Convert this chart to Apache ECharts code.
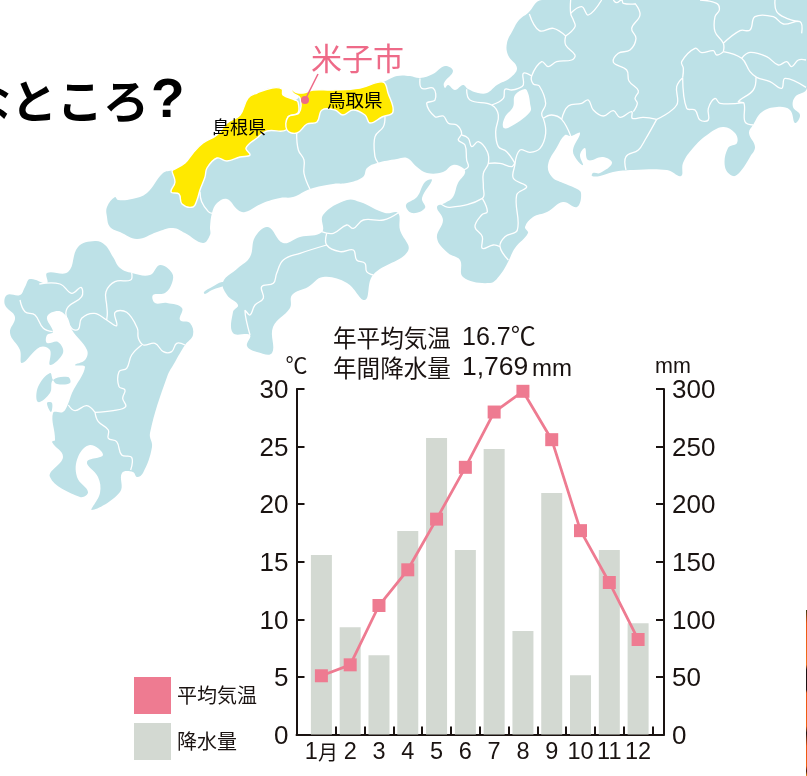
<!DOCTYPE html>
<html>
<head>
<meta charset="utf-8">
<style>
  html, body { margin: 0; padding: 0; background: #fff; }
  #chart { width: 807px; height: 776px; }
</style>
<script src="https://cdn.jsdelivr.net/npm/echarts@6/dist/echarts.min.js"></script>
</head>
<body>
<div id="chart"></div>
<script>
const months = ["1月", "2", "3", "4", "5", "6", "7", "8", "9", "10", "11", "12"];
const temperature = [5.1, 6.05, 11.2, 14.3, 18.7, 23.2, 28.0, 29.8, 25.6, 17.7, 13.2, 8.25];
const rainfall = [155.8, 93.2, 68.9, 176.6, 257.4, 160.1, 247.9, 89.8, 209.7, 51.5, 160.1, 96.7];
const tempName = "平均気温";
const rainName = "降水量";

const FONT = '"Liberation Sans", "Noto Sans CJK JP", sans-serif';
const JP = '"Noto Sans CJK JP", sans-serif';
const INK = "#1a1311";
const PINK = "#ee7b91";
const GREY = "#d3d9d2";
const LAND = "#bde1e7";
const YELLOW = "#ffe900";

// map outlines, page pixels
const honshu = [[107,207],[115,197],[118,200],[132,199],[147,193],[163,173],[173,170],[185,163],[193,153],[203,143],[217,135],[227,123],[240,115],[248,98],[257,93],[272,88],[282,89],[283,95],[295,100],[303,93],[313,90],[333,90],[360,88],[383,82],[397,76],[410,76],[420,78],[433,74],[445,66],[453,71],[444,83],[445,88],[448,85],[455,90],[463,85],[468,89],[478,93],[487,93],[497,85],[510,78],[517,68],[508,55],[507,43],[513,30],[519,20],[528,13],[542,0],[807,0],[807,88],[795,97],[793,107],[800,115],[795,123],[790,110],[777,107],[762,112],[753,125],[749,133],[755,147],[750,157],[740,172],[733,176],[725,167],[728,148],[737,143],[735,133],[723,127],[707,135],[693,148],[683,163],[681,176],[667,170],[633,170],[613,172],[600,176],[592,176],[593,173],[600,173],[612,163],[603,157],[588,160],[585,148],[580,155],[583,165],[577,160],[573,150],[580,133],[571,136],[565,135],[557,147],[548,165],[552,177],[563,183],[575,188],[581,193],[577,207],[563,202],[547,212],[533,217],[525,227],[528,233],[515,248],[508,262],[500,275],[490,283],[463,277],[460,260],[448,253],[437,238],[443,220],[437,207],[445,203],[453,197],[458,183],[465,173],[463,168],[453,165],[443,172],[427,173],[417,167],[407,158],[397,159],[377,163],[367,168],[363,177],[347,183],[333,184],[310,189],[293,197],[280,198],[263,203],[245,212],[238,210],[227,199],[217,203],[212,213],[210,227],[210,235],[203,243],[185,233],[173,228],[157,232],[137,239],[120,232],[110,227],[107,217]];
const biwa = [[525,89],[515,95],[513,107],[505,117],[503,127],[508,128],[530,112],[530,103],[528,93]];
const awaji = [[432,180],[425,182],[417,197],[406,205],[412,213],[425,208],[422,198]];
const shikoku = [[223,282],[238,268],[250,257],[255,237],[268,227],[283,243],[300,237],[322,232],[323,215],[347,200],[360,202],[385,213],[398,213],[400,230],[408,251],[373,275],[365,300],[347,283],[323,277],[308,287],[292,295],[290,308],[273,327],[272,353],[257,352],[247,346],[250,335],[233,333],[233,312],[238,305],[227,295]];
const sadamisaki = [[204,292],[212,287],[222,282],[225,285],[212,290],[205,294]];
const kyushu = [[95,241],[78,247],[68,272],[47,273],[47,283],[30,279],[25,287],[20,295],[7,295],[5,305],[15,317],[10,333],[20,350],[22,363],[40,347],[50,350],[50,365],[63,353],[58,342],[47,343],[47,335],[53,332],[47,317],[58,311],[67,317],[72,330],[87,350],[85,360],[75,365],[85,367],[72,393],[68,404],[63,412],[53,413],[55,440],[52,442],[63,457],[50,477],[80,497],[88,492],[77,477],[78,457],[90,445],[103,455],[87,462],[98,477],[100,493],[92,510],[120,492],[122,473],[133,472],[137,477],[143,473],[152,447],[150,433],[167,377],[175,362],[185,345],[193,335],[190,323],[180,320],[182,308],[167,303],[155,303],[153,295],[165,293],[172,283],[172,273],[160,265],[150,275],[132,273],[120,268],[113,257],[105,245]];
const amakusa = [[50,373],[38,387],[38,402],[50,393],[53,380],[68,377],[70,383],[57,384],[53,380]];
const koshiki = [[47,403],[52,403],[51,412]];
const shimane = [[173,170],[185,163],[193,153],[203,143],[217,135],[227,123],[240,115],[248,98],[257,93],[272,88],[282,89],[283,95],[295,100],[298,102],[298,113],[288,117],[286,130],[267,131],[257,138],[246,148],[250,155],[240,157],[227,161],[217,158],[207,168],[205,177],[200,190],[197,200],[193,207],[182,204],[179,194],[171,192],[175,182],[172,171]];
const tottori = [[290,86],[295,92],[303,93],[313,90],[333,90],[360,88],[383,82],[388,93],[393,112],[382,117],[370,123],[365,115],[353,110],[343,115],[335,110],[322,110],[317,122],[307,124],[297,133],[287,130],[288,117],[299,113],[300,98],[293,93]];

// prefecture borders, page pixels (x, y pairs taken off 3x crops)
function crop(ox, oy, flat) {
  const pts = [];
  for (let i = 0; i < flat.length; i += 2) pts.push([ox + flat[i] / 3, oy + flat[i + 1] / 3]);
  return pts;
}
const borders = [
  // kyushu
  [0,180,[60,360,75,395,105,405,130,445,158,455]],
  [0,180,[118,312,180,312,215,340,243,322,245,350,205,380,198,405,215,445,235,448,245,415,283,400,320,420,350,437,345,397,380,397,412,445,415,475,430,495,465,490,490,515,515,515,530,490,555,495]],
  [0,180,[395,278,392,300,345,305,318,335,320,375,322,400,320,420]],
  [0,180,[425,495,395,525,380,565,357,575,357,620,375,630,368,655,377,680,340,692,285,697]],
  [0,180,[205,675,225,692,260,677,285,697]],
  [0,180,[285,697,295,725,325,750,325,775,350,785,365,825,395,832,392,870]],
  // shikoku
  [0,180,[965,155,1000,160,1040,135,1060,145,1090,120,1150,120,1195,98]],
  [0,180,[980,160,980,195,1020,215,1060,210,1070,240,1095,250,1100,275,1120,285]],
  [0,180,[980,195,900,220,850,240,830,280,820,310,785,320,790,355,765,375,750,405,735,392,750,465]],
  // chugoku
  [0,0,[600,575,605,605,625,635,637,640]],
  [0,0,[890,400,895,450,912,480,912,520,930,568]],
  [0,0,[1155,350,1150,380,1125,410,1125,470,1135,490]],
  // kinki and chubu
  [400,0,[60,235,65,265,100,265,105,300,80,310,105,350,130,348,145,370,170,375,185,400,175,420,195,435,200,480,205,500,190,510]],
  [400,0,[185,405,205,415,215,440,235,425,262,455,265,490,250,520,250,560,247,595,150,622,120,610]],
  [400,0,[200,268,210,300,275,315,295,345,287,395,295,440,320,455,345,490]],
  [400,0,[275,315,310,295,315,268,335,270,355,265,370,255,370,220,395,228]],
  [400,0,[388,42,418,92,460,85,497,108]],
  [400,0,[497,108,497,135,525,165,515,180,470,185,445,200,425,185,395,228,400,252,418,258,437,310,425,340,430,355]],
  [400,0,[430,355,437,400,420,445,390,457,360,450,345,490]],
  [400,0,[265,490,300,490,335,500,345,490,340,535,380,560,350,585,352,690,315,710,300,740,325,780]],
  [400,0,[247,595,262,635,245,645,225,680,247,710,247,745,280,735,300,740]],
  [400,0,[430,355,455,345,485,358,512,408]],
  [400,0,[485,358,505,318,545,310,565,300,580,330,610,348,640,332,660,352,695,335,697,355,730,352,770,358]],
  [400,0,[512,0,512,40,520,60,525,80,497,108]],
  [400,0,[512,40,545,20,565,45,605,0]],
  [400,0,[640,0,650,8,665,0,670,10,705,12]],
  [400,0,[705,10,720,45,695,85,708,115,690,150,655,160,640,187,680,210,687,243,715,272,705,295,712,310,700,335]],
  [400,0,[770,358,830,315,830,260,848,233]],
  [400,0,[770,358,735,420,715,450,678,470,678,510]],
  [400,0,[848,233,860,325,885,330,900,360,925,360,925,325,945,295,960,310,1030,308]],
  [400,0,[848,233,850,205,845,185,885,145,905,158,940,152,950,165,970,155]],
  [400,0,[900,0,950,10,958,30,945,50,945,95,970,130,970,155]],
  [400,0,[970,130,1020,92,1050,90,1065,50,1120,50,1150,72,1200,65,1205,100]],
  [400,0,[1125,0,1130,35,1160,55,1195,65]],
  [400,0,[970,155,1025,175,1050,215,1070,232,1110,245,1145,265,1155,235,1218,262]],
  [400,0,[1025,175,1050,157,1100,170,1135,195,1160,185,1175,200,1195,180,1218,180]],
  [400,0,[1068,232,1060,270,1015,305,1032,310,1035,365,1060,375]]
];

function land(points, fill, stroke) {
  return {
    type: "polygon", silent: true, z: -2,
    shape: { points: points, smooth: 0.4 },
    style: { fill: fill, stroke: stroke || null, lineWidth: stroke ? 1.4 : 0 }
  };
}
function label(text, x, y, size, color, font, weight) {
  return {
    type: "text", silent: true, x: x, y: y,
    style: {
      text: text, fill: color || INK, font: (weight || "normal") + " " + size + "px " + (font || JP),
      verticalAlign: "middle", align: "left"
    }
  };
}

const mapParts = [land(honshu, LAND), land(awaji, LAND), land(shikoku, LAND), land(sadamisaki, LAND), land(kyushu, LAND),
  land(amakusa, LAND), land(koshiki, LAND), land(biwa, "#fff")];
borders.forEach((b) => {
  mapParts.push({
    type: "polyline", silent: true, z: -1,
    shape: { points: crop(b[0], b[1], b[2]), smooth: 0.4 },
    style: { stroke: "#fff", lineWidth: 1.3, fill: null }
  });
});
const shimaneEl = land(shimane, YELLOW, "#fff");
const tottoriEl = land(tottori, YELLOW, "#fff");
shimaneEl.z = 0;
tottoriEl.z = 0;
mapParts.push(shimaneEl, tottoriEl);

const graphics = mapParts.concat([
  label("なところ", -35, 101, 46, "#000", JP, "700"),
  label("?", 151, 102, 55, "#000", FONT, "bold"),
  label("米子市", 311, 58, 31, "#ee6a88"),
  label("島根県", 212, 127, 18, "#000"),
  label("鳥取県", 327, 100, 18.5, "#000"),
  { type: "line", silent: true, shape: { x1: 318, y1: 74, x2: 305, y2: 100 }, style: { stroke: "#ee6a88", lineWidth: 1.5 } },
  { type: "circle", silent: true, shape: { cx: 305, cy: 100, r: 4 }, style: { fill: "#ee6a88" } },
  label("年平均気温", 333, 338, 23.6),
  label("16.7℃", 462, 338, 25, INK, FONT),
  label("年間降水量", 333, 368, 23.6),
  label("1,769", 462, 368, 26.5, INK, FONT),
  label("mm", 532, 369, 24, INK, FONT),
  {
    type: "rect", silent: true, shape: { x: 806, y: 610, width: 1, height: 166 },
    style: {
      fill: {
        type: "linear", x: 0, y: 0, x2: 0, y2: 1,
        colorStops: [
          { offset: 0, color: "#3a3a10" }, { offset: 0.08, color: "#ee5510" }, { offset: 0.33, color: "#f0701a" },
          { offset: 0.36, color: "#201010" }, { offset: 0.48, color: "#201010" }, { offset: 0.5, color: "#ee5510" },
          { offset: 0.7, color: "#f06010" }, { offset: 0.74, color: "#201010" }, { offset: 0.82, color: "#ee5510" },
          { offset: 0.94, color: "#f06010" }, { offset: 0.97, color: "#401010" }, { offset: 1, color: "#f09010" }
        ]
      }
    }
  }
]);

const chart = echarts.init(document.getElementById("chart"), null, { renderer: "canvas" });
chart.setOption({
  animation: false,
  backgroundColor: "#fff",
  textStyle: { fontFamily: FONT, color: INK },
  graphic: { elements: graphics },
  legend: {
    orient: "vertical", left: 129, top: 672,
    itemWidth: 37, itemHeight: 37, itemGap: 9,
    selectedMode: false, icon: "rect",
    data: [tempName, rainName],
    textStyle: { fontFamily: JP, fontSize: 20, color: INK, padding: [0, 0, 0, 1] }
  },
  tooltip: { show: false },
  grid: [
    { left: 307, width: 345.5, top: 389, height: 345.5 },
    { left: 296.5, width: 367.5, top: 389, height: 345.5 }
  ],
  xAxis: [
    {
      type: "category", gridIndex: 0, data: months,
      axisLine: { show: true, lineStyle: { color: INK, width: 2 } },
      axisTick: {
        show: true, inside: true, length: 8, interval: (i) => i > 0,
        lineStyle: { color: INK, width: 2 }
      },
      axisLabel: {
        interval: 0, color: INK, fontFamily: FONT, fontSize: 23.5, margin: 6,
        formatter: (v) => (v === months[0] ? "{n|1}{m|月}" : v),
        rich: {
          n: { fontFamily: FONT, fontSize: 23.5, color: INK },
          m: { fontFamily: JP, fontSize: 20, color: INK }
        }
      }
    },
    {
      type: "value", gridIndex: 1, min: 0, max: 1, interval: 1,
      axisLine: { show: true, onZero: false, lineStyle: { color: INK, width: 2 } },
      axisTick: { show: false }, axisLabel: { show: false }, splitLine: { show: false }
    }
  ],
  yAxis: [
    { type: "value", gridIndex: 0, min: 0, max: 30, show: false },
    { type: "value", gridIndex: 0, min: 0, max: 300, show: false },
    {
      type: "value", gridIndex: 1, position: "left", min: 0, max: 30, interval: 5,
      name: "℃", nameLocation: "end", nameGap: 1,
      nameTextStyle: { fontFamily: FONT, fontSize: 22, color: INK },
      axisLine: { show: true, onZero: false, lineStyle: { color: INK, width: 2 } },
      axisTick: { show: true, inside: true, length: 8, lineStyle: { color: INK, width: 2 } },
      axisLabel: { color: INK, fontFamily: FONT, fontSize: 26, margin: 8, verticalAlign: "top", lineHeight: 4 },
      splitLine: { show: false }
    },
    {
      type: "value", gridIndex: 1, position: "right", min: 0, max: 300, interval: 50,
      name: "mm", nameLocation: "end", nameGap: 10,
      nameTextStyle: { fontFamily: FONT, fontSize: 21.5, color: INK, padding: [0, 0, 0, 18] },
      axisLine: { show: true, onZero: false, lineStyle: { color: INK, width: 2 } },
      axisTick: { show: true, inside: true, length: 8, lineStyle: { color: INK, width: 2 } },
      axisLabel: { color: INK, fontFamily: FONT, fontSize: 26, margin: 8, verticalAlign: "top", lineHeight: 4 },
      splitLine: { show: false }
    }
  ],
  series: [
    {
      name: rainName, type: "bar", xAxisIndex: 0, yAxisIndex: 1,
      data: rainfall, barWidth: 21, itemStyle: { color: GREY }, z: 1
    },
    {
      name: tempName, type: "line", xAxisIndex: 0, yAxisIndex: 0,
      data: temperature, symbol: "rect", symbolSize: 13,
      lineStyle: { color: PINK, width: 2.8 }, itemStyle: { color: PINK }, z: 3, clip: false
    }
  ]
});
window.addEventListener("resize", () => {
  chart.resize();
});
</script>
</body>
</html>
